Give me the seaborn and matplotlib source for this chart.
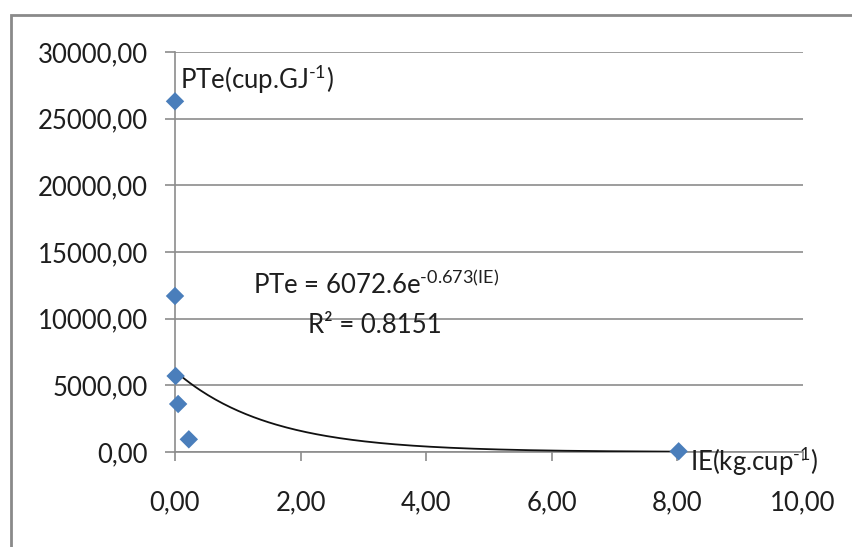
import numpy as np
import pandas as pd
import seaborn as sns
import matplotlib.pyplot as plt
from matplotlib.patches import Rectangle
from matplotlib.ticker import FuncFormatter, MultipleLocator

# Dane
ie = [0.0, 0.0, 0.01, 0.05, 0.22, 8.02]
pte = [26300, 11700, 5700, 3600, 950, 50]

# Linia trendu (wykładnicza)
coef_a = 6072.6
coef_b = -0.673

sns.set_theme(style="white")
plt.rcParams['font.family'] = ['Lato', 'DejaVu Sans']
plt.rcParams['mathtext.default'] = 'regular'

df = pd.DataFrame({"IE": ie, "PTe": pte})

fig = plt.figure(figsize=(8.53, 5.47), dpi=100)
ax = fig.add_axes([175 / 853, 1 - 452 / 547, 628 / 853, 400 / 547])

# ramka wykresu
fig.patches.append(Rectangle((11 / 853, -0.1), 1.2, 1 - 15 / 547 + 0.1,
                             transform=fig.transFigure, fill=False,
                             edgecolor='#8a8a8a', linewidth=2))

grid_c = '#8c8c8c'
txt_c = '#1e1e1e'
fs = 18.5
ax.set_xlim(0, 10)
ax.set_ylim(0, 30000)
ax.yaxis.set_major_locator(MultipleLocator(5000))
ax.xaxis.set_major_locator(MultipleLocator(2))
ax.yaxis.grid(True, color=grid_c, linewidth=1.2)
ax.xaxis.grid(False)
fmt = FuncFormatter(lambda v, _: f"{v:.2f}".replace('.', ','))
ax.yaxis.set_major_formatter(fmt)
ax.xaxis.set_major_formatter(fmt)

for s in ['top', 'right']:
    ax.spines[s].set_visible(False)
for s in ['left', 'bottom']:
    ax.spines[s].set_color(grid_c)
    ax.spines[s].set_linewidth(1.2)

ax.tick_params(axis='y', left=True, length=7.5, width=1.2, color=grid_c,
               pad=12, labelsize=fs, labelcolor=txt_c)
ax.tick_params(axis='x', bottom=True, length=6.5, width=1.2, color=grid_c,
               pad=21, labelsize=fs, labelcolor=txt_c)

xs = np.linspace(min(ie), max(ie), 200)
sns.lineplot(x=xs, y=coef_a * np.exp(coef_b * xs), ax=ax, color='#111111',
             linewidth=1.3, zorder=3)
sns.scatterplot(data=df, x="IE", y="PTe", ax=ax, marker='D', s=88,
                color='#4a7ebb', edgecolor='none', zorder=4, clip_on=False)
ax.set_xlabel("")
ax.set_ylabel("")

hy = '\u2010'
ax.text(0.08, 27900, f"PTe(cup.GJ$^{{{hy}1}}$)", fontsize=fs, color=txt_c,
        va='center', ha='left')
ax.text(8.2, -700, f"IE(kg.cup$^{{{hy}1}}$)", fontsize=fs, color=txt_c,
        va='center', ha='left', clip_on=False)
ax.text(1.25, 12550, f"PTe = 6072.6e$^{{{hy}0.673(IE)}}$", fontsize=fs,
        color=txt_c, va='center', ha='left')
ax.text(2.12, 9500, "R² = 0.8151", fontsize=fs, color=txt_c,
        va='center', ha='left')

fig.savefig("out.png", dpi=100)
